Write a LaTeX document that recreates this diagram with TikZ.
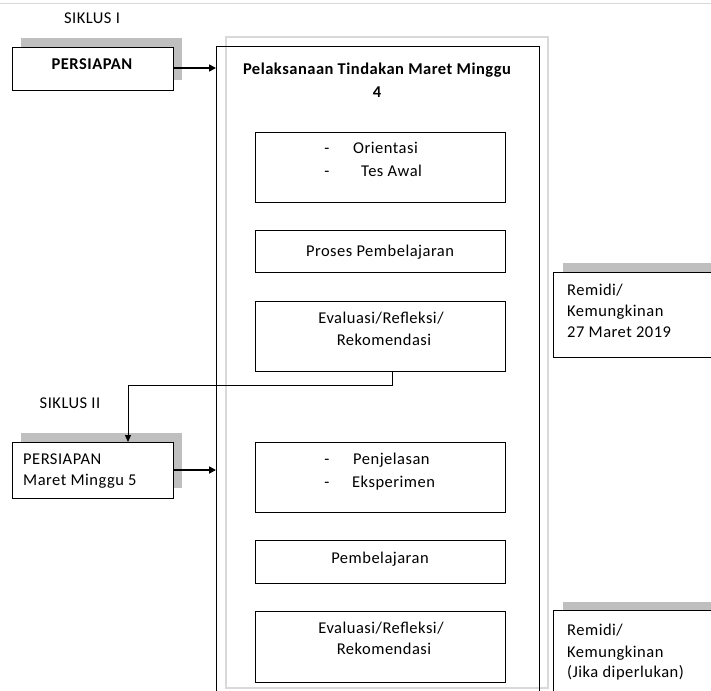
\documentclass[tikz,border=0pt]{standalone}
\usepackage{fontspec}
\setmainfont{Carlito}[LetterSpace=3]
\usetikzlibrary{arrows.meta}
\definecolor{shadowgray}{HTML}{BFBFBF}
\definecolor{framegray}{HTML}{D9D9D9}
\begin{document}
\begin{tikzpicture}[x=1pt,y=-1pt,
  box/.style={draw=black,line width=1pt,fill=white,inner sep=0pt,outer sep=0pt},
  shade/.style={fill=shadowgray,draw=none,inner sep=0pt,outer sep=0pt},
  txt/.style={inner sep=0pt,text height=11pt,text depth=0pt,font=\fontsize{16.5}{23}\selectfont},
  arr/.style={line width=1.6pt,-{Triangle[length=7pt,width=7pt]}},
  conn/.style={line width=1pt,-{Triangle[length=7pt,width=6pt]}}]
\useasboundingbox (0,0) rectangle (711,690);
\clip (0,0) rectangle (711,690);
% top rule
\draw[framegray,line width=1.5pt] (0,3.5) -- (711,3.5);
% main frame
\draw[framegray,line width=1.2pt] (226,37) rectangle (548,688);
\node[box,fill=none,minimum width=323,minimum height=663] (main) at (377.5,378.5) {};
% cycle I
\node[txt] (s1) at (92,18) {SIKLUS I};
\node[shade,minimum width=161,minimum height=42] (p1s) at (101.5,59) {};
\node[box,minimum width=161,minimum height=43] (p1) at (92.5,69) {};
\node[txt,font=\fontsize{16.5}{23}\selectfont\bfseries] (p1t) at (92,64) {PERSIAPAN};
\node[txt,font=\fontsize{16.5}{23}\selectfont\bfseries] (title1) at (377,69) {Pelaksanaan Tindakan Maret Minggu};
\node[txt,font=\fontsize{16.5}{23}\selectfont\bfseries] (title2) at (377,92) {4};
\node[box,minimum width=250,minimum height=70] (o1) at (380,167) {};
\node[txt] (o1d1) at (327,148) {-};
\node[txt,anchor=west] (o1a) at (353,148) {Orientasi};
\node[txt] (o1d2) at (327,171) {-};
\node[txt,anchor=west] (o1b) at (361,171) {Tes Awal};
\node[box,minimum width=250,minimum height=42] (pp) at (380,251) {};
\node[txt] (ppt) at (380,251) {Proses Pembelajaran};
\node[box,minimum width=250,minimum height=70] (e1) at (380,336) {};
\node[txt] (e1a) at (381,318) {Evaluasi/Refleksi/};
\node[txt] (e1b) at (384,340) {Rekomendasi};
% remidi 1
\node[shade,minimum width=172,minimum height=90,anchor=north west] (r1s) at (563,263) {};
\node[box,minimum width=172,minimum height=85,anchor=north west] (r1) at (553,272) {};
\node[txt,anchor=west] (r1a) at (567,290) {Remidi/};
\node[txt,anchor=west] (r1b) at (567,311) {Kemungkinan};
\node[txt,anchor=west] (r1c) at (567,332) {27 Maret 2019};
% cycle II
\node[txt] (s2) at (70,403) {SIKLUS II};
\node[shade,minimum width=161,minimum height=55,anchor=north west] (p2s) at (21,433) {};
\node[box,minimum width=161,minimum height=56,anchor=north west] (p2) at (12,442) {};
\node[txt,anchor=west] (p2a) at (23,459) {PERSIAPAN};
\node[txt,anchor=west] (p2b) at (23,480) {Maret Minggu 5};
\node[box,minimum width=250,minimum height=70] (o2) at (380,477) {};
\node[txt] (o2d1) at (327,459) {-};
\node[txt,anchor=west] (o2a) at (353,459) {Penjelasan};
\node[txt] (o2d2) at (327,482) {-};
\node[txt,anchor=west] (o2b) at (352,482) {Eksperimen};
\node[box,minimum width=250,minimum height=43] (pb) at (380,561.5) {};
\node[txt] (pbt) at (380,558) {Pembelajaran};
\node[box,minimum width=250,minimum height=71] (e2) at (380,646.5) {};
\node[txt] (e2a) at (381,628) {Evaluasi/Refleksi/};
\node[txt] (e2b) at (384,649) {Rekomendasi};
% remidi 2
\node[shade,minimum width=172,minimum height=100,anchor=north west] (r2s) at (563,602) {};
\node[box,minimum width=172,minimum height=95,anchor=north west] (r2) at (553,610) {};
\node[txt,anchor=west] (r2a) at (567,630) {Remidi/};
\node[txt,anchor=west] (r2b) at (567,652) {Kemungkinan};
\node[txt,anchor=west] (r2c) at (567,672) {(Jika diperlukan)};
% connectors
\draw[arr] ([yshift=1]p1.east) -- ([yshift=1]p1.east -| main.west);
\draw[arr] (p2.east) -- (p2.east -| main.west);
\coordinate (bend) at (128,385);
\draw[conn] ([xshift=12]e1.south) |- (bend) -- (bend |- p2.north);
\end{tikzpicture}
\end{document}
